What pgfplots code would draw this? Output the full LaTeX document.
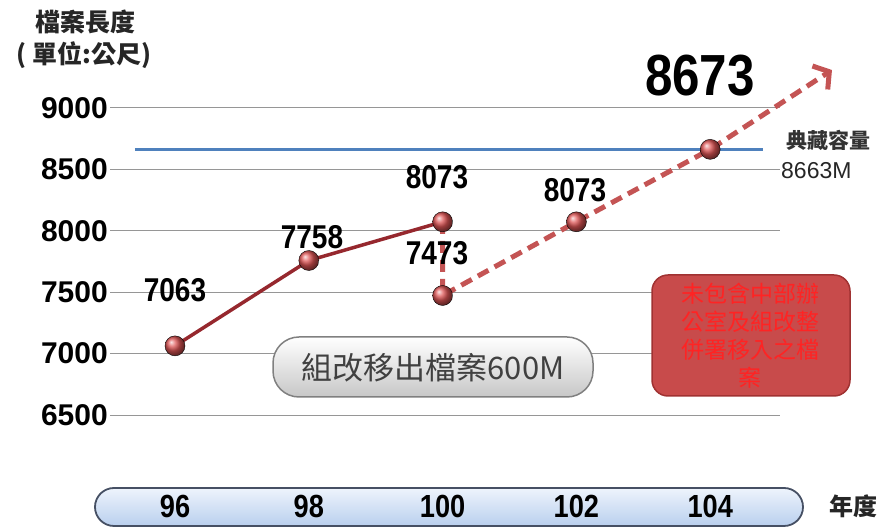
\documentclass[border=0pt]{standalone}
\usepackage{pgfplots}
\pgfplotsset{compat=1.18}
\usepackage{fontspec}
\usetikzlibrary{arrows.meta}
\setmainfont{Liberation Sans}
\newfontfamily\cjk{Noto Sans CJK TC}
\newfontfamily\numfont[FakeStretch=0.85]{Liberation Sans}

\definecolor{solidred}{RGB}{150,40,46}
\definecolor{dashred}{RGB}{196,84,84}
\definecolor{ballred}{RGB}{222,85,85}
\definecolor{capblue}{RGB}{79,129,189}
\definecolor{gridgray}{RGB}{150,150,150}
\definecolor{boxfill}{RGB}{200,75,75}
\definecolor{boxdraw}{RGB}{160,50,50}
\definecolor{boxtext}{RGB}{255,35,35}
\definecolor{bartop}{RGB}{238,244,252}
\definecolor{barbot}{RGB}{185,207,238}
\definecolor{bardraw}{RGB}{70,80,100}

\begin{document}
\begin{tikzpicture}[x=1pt,y=1pt]
\useasboundingbox (0,0) rectangle (881,529);

% year bar behind the x tick labels
\shade[top color=bartop, bottom color=barbot, draw=bardraw, line width=1.8pt, rounded corners=19pt]
  (95,3) rectangle (803,41);

\begin{axis}[
  at={(0pt,0pt)}, anchor=south west,
  scale only axis, width=881pt, height=529pt,
  xmin=93.384, xmax=106.553, ymin=5572, ymax=9879,
  axis line style={draw=none}, major tick length=0pt,
  clip=false,
  xtick={96,98,100,102,104}, xticklabels={96,98,100,102,104},
  x tick label style={anchor=center, yshift=23pt, inner sep=0pt,
    font=\numfont\bfseries\fontsize{32}{36}\selectfont},
  ytick={6500,7000,7500,8000,8500,9000},
  yticklabels={6500,7000,7500,8000,8500,9000},
  y tick label style={anchor=east, xshift=108pt, inner sep=0pt,
    font=\bfseries\fontsize{30}{34}\selectfont},
]
% grid lines
\draw[gridgray, line width=1pt] (axis cs:95.03,6500) -- (axis cs:105.04,6500);
\draw[gridgray, line width=1pt] (axis cs:95.03,7000) -- (axis cs:105.04,7000);
\draw[gridgray, line width=1pt] (axis cs:95.03,7500) -- (axis cs:105.04,7500);
\draw[gridgray, line width=1pt] (axis cs:95.03,8000) -- (axis cs:105.04,8000);
\draw[gridgray, line width=1pt] (axis cs:95.03,8500) -- (axis cs:105.04,8500);
\draw[gridgray, line width=1pt] (axis cs:95.03,9000) -- (axis cs:105.04,9000);

% capacity line
\addplot[capblue, line width=3.5pt, forget plot] coordinates {(95.40,8663) (104.79,8663)};

% actual
\addplot[solidred, line width=3.5pt, line join=round] coordinates {(96,7063) (98,7758) (100,8073)};
% projected
\addplot[dashred, line width=5pt, dash pattern=on 12pt off 7pt, line join=round,
  -{Straight Barb[length=11pt,width=28pt]}]
  coordinates {(100,8073) (100,7473) (102,8073) (104,8663) (105.82,9309)};
% points
\addplot[only marks, mark=ball, mark size=10pt, ball color=ballred]
  coordinates {(96,7063) (98,7758) (100,8073) (100,7473) (102,8073) (104,8663)};
\end{axis}

% labels
\node[font=\cjk\bfseries\fontsize{25}{28}\selectfont, text=black!85] at (85,507) {檔案長度};
\node[font=\cjk\bfseries\fontsize{25}{28}\selectfont, text=black!85] at (84,474) {( 單位:公尺)};
\node[font=\numfont\bfseries\fontsize{58}{62}\selectfont] at (700,453) {8673};
\node[font=\cjk\bfseries\fontsize{21}{24}\selectfont, text=black!80] at (828,389) {典藏容量};
\node[font=\fontsize{23}{26}\selectfont, text=black!85, anchor=west, inner sep=0pt] at (781,358) {8663M};

\node[font=\numfont\bfseries\fontsize{33}{36}\selectfont] at (175,239) {7063};
\node[font=\numfont\bfseries\fontsize{33}{36}\selectfont] at (312,292) {7758};
\node[font=\numfont\bfseries\fontsize{33}{36}\selectfont] at (437,352) {8073};
\node[font=\numfont\bfseries\fontsize{33}{36}\selectfont] at (437,276) {7473};
\node[font=\numfont\bfseries\fontsize{33}{36}\selectfont] at (575,339) {8073};

\node[font=\cjk\bfseries\fontsize{24}{28}\selectfont, text=black!85] at (853,23) {年度};

% note button
\shade[top color=white, bottom color=black!22, draw=black!50, line width=1.5pt, rounded corners=26pt]
  (273,132) rectangle (593,192);
\node[font=\cjk\fontsize{31}{34}\selectfont, text=black!75] at (433,161) {組改移出檔案600M};

% red box
\draw[fill=boxfill, draw=boxdraw, line width=1.5pt, rounded corners=16pt] (652,133) rectangle (850,254);
\node[font=\cjk\fontsize{23}{28}\selectfont, text=boxtext, align=center] at (750,193)
  {未包含中部辦\\公室及組改整\\併署移入之檔\\案};
\end{tikzpicture}
\end{document}
